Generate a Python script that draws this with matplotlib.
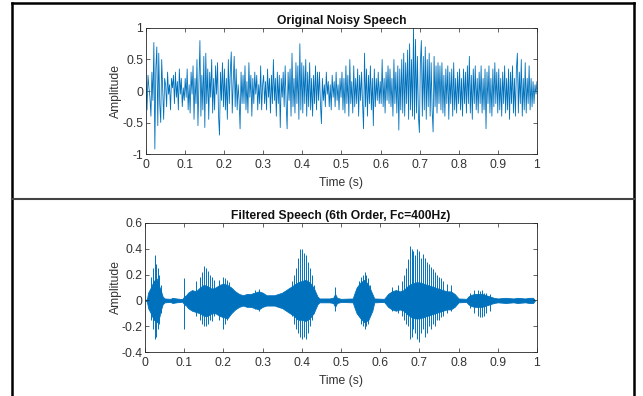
import numpy as np
import matplotlib.pyplot as plt
from matplotlib.lines import Line2D

# noisy input, one sample every 2.5 ms (0..1 s)
noisy = [
    0.15, -0.3, 0.25, 0.05, -0.1, -0.4, 0.3, -0.15, 0.77, -0.92, 0.35, 0.7, -0.55, 0.6, -0.2, -0.5, 0.5, 0.0, -0.45, 0.2,
    0.1, -0.25, 0.3, -0.05, 0.1, -0.3, 0.2, 0.05, 0.25, -0.2, 0.3, -0.1, 0.15, -0.3, 0.35, -0.05, 0.2, -0.25, 0.05, -0.15,
    0.2, -0.1, 0.35, -0.3, 0.1, -0.35, 0.3, -0.05, 0.4, -0.45, 0.2, -0.2, 0.5, -0.55, 0.15, 0.8, -0.4, 0.25, -0.3, 0.55,
    -0.58, 0.6, -0.2, 0.35, -0.45, 0.3, -0.1, 0.5, -0.35, 0.2, -0.3, 0.4, -0.05, 0.45, -0.4, -0.7, 0.3, -0.15, 0.45, -0.25,
    0.35, -0.3, 0.2, -0.45, 0.5, -0.2, 0.3, 0.62, -0.35, 0.15, 0.55, -0.25, 0.35, -0.3, 0.1, -0.15, -0.6, 0.3, -0.2, 0.25,
    -0.2, 0.4, -0.3, 0.15, -0.35, 0.45, -0.1, 0.25, -0.4, 0.2, -0.2, 0.3, -0.05, 0.25, -0.3, 0.1, -0.2, 0.4, -0.3, 0.1,
    0.25, -0.2, 0.15, -0.3, 0.35, -0.1, 0.2, -0.35, 0.25, -0.2, 0.5, -0.15, 0.2, -0.4, 0.3, -0.2, 0.25, -0.58, 0.2, -0.1,
    0.3, -0.25, 0.4, -0.2, -0.6, 0.3, -0.15, 0.35, -0.4, 0.6, -0.25, 0.2, -0.35, 0.45, -0.2, 0.4, -0.45, 0.75, -0.3, 0.45,
    -0.35, 0.4, -0.2, 0.5, -0.4, 0.3, -0.25, 0.45, -0.3, 0.2, -0.4, 0.25, -0.2, 0.4, -0.3, 0.3, -0.15, 0.3, -0.2, -0.52,
    0.2, -0.15, 0.1, -0.25, 0.3, -0.05, 0.15, -0.25, 0.1, -0.3, 0.25, -0.1, 0.15, -0.25, 0.3, -0.15, 0.1, -0.3, 0.2, -0.1,
    0.3, -0.3, 0.2, -0.35, 0.4, -0.2, 0.25, -0.4, 0.5, -0.2, 0.15, -0.35, 0.4, -0.25, 0.2, -0.2, 0.35, -0.4, 0.25, -0.15,
    0.3, -0.2, -0.6, 0.6, -0.25, 0.35, -0.4, 0.25, -0.2, 0.4, -0.3, 0.2, -0.55, 0.35, -0.25, 0.2, -0.15, 0.3, -0.2, 0.15,
    -0.2, 0.5, -0.25, 0.2, -0.35, 0.3, -0.15, 0.4, -0.2, 0.35, -0.25, 0.2, -0.4, 0.5, -0.2, 0.3, -0.35, 0.4, -0.62, 0.35,
    -0.3, 0.5, -0.35, 0.6, -0.4, 0.45, -0.2, 0.65, -0.45, 0.75, -0.3, 0.5, -0.4, 1.0, -0.45, 0.82, -0.35, 0.55, -0.4, -0.66,
    0.45, 0.8, -0.4, 0.55, -0.3, 0.7, -0.45, 0.5, -0.25, 0.6, -0.4, 0.45, -0.3, -0.65, 0.55, -0.25, 0.4, -0.35, 0.45, -0.2,
    0.4, -0.3, 0.45, -0.35, 0.25, -0.4, 0.35, -0.2, 0.4, -0.45, 0.3, -0.2, 0.35, -0.4, 0.45, -0.3, 0.2, -0.35, 0.3, -0.2,
    0.35, -0.3, 0.2, -0.4, 0.35, -0.2, 0.3, -0.35, 0.4, -0.2, 0.55, -0.35, 0.25, -0.45, 0.35, -0.2, 0.4, -0.3, 0.2, -0.35,
    0.3, -0.2, 0.4, -0.35, 0.2, -0.3, 0.35, -0.6, 0.3, -0.2, 0.4, -0.35, 0.2, -0.4, 0.35, -0.25, 0.45, -0.2, 0.3, -0.35,
    0.35, -0.3, 0.2, -0.4, 0.3, -0.2, 0.4, -0.35, 0.2, -0.3, 0.35, -0.45, 0.3, -0.2, 0.4, -0.35, 0.2, -0.4, 0.35, 0.6,
    -0.35, 0.3, -0.2, 0.5, -0.4, 0.2, -0.3, 0.45, -0.35, 0.2, -0.2, 0.4, -0.3, 0.2, -0.25, 0.15, -0.2, 0.1, -0.05, 0.15,
]

# filtered output: envelope of the dense core (time, top, bottom)
env_t = [0.0, 0.005, 0.008, 0.015, 0.022, 0.03, 0.035, 0.04, 0.045, 0.05, 0.065, 0.07, 0.08, 0.095,
         0.1, 0.105, 0.11, 0.12, 0.13, 0.14, 0.15, 0.16, 0.17, 0.18, 0.19, 0.2, 0.21, 0.22, 0.23, 0.24,
         0.25, 0.26, 0.27, 0.28, 0.29, 0.3, 0.31, 0.32, 0.33, 0.34, 0.35, 0.36, 0.37, 0.38, 0.39, 0.4,
         0.41, 0.42, 0.43, 0.44, 0.445, 0.47, 0.48, 0.485, 0.49, 0.5, 0.53, 0.535, 0.54, 0.55, 0.56, 0.57,
         0.58, 0.585, 0.61, 0.615, 0.62, 0.63, 0.64, 0.65, 0.66, 0.67, 0.68, 0.69, 0.7, 0.71, 0.72, 0.73,
         0.74, 0.75, 0.76, 0.77, 0.78, 0.79, 0.8, 0.82, 0.825, 0.83, 0.84, 0.85, 0.86, 0.87, 0.88, 0.89,
         0.9, 0.92, 0.94, 0.95, 0.97, 0.98, 0.99, 0.995]
env_hi = [0.0, 0.01, 0.06, 0.1, 0.15, 0.17, 0.12, 0.08, 0.03, 0.015, 0.012, 0.02, 0.015, 0.01,
          0.03, 0.04, 0.06, 0.08, 0.07, 0.1, 0.12, 0.11, 0.09, 0.1, 0.12, 0.13, 0.12, 0.1, 0.07, 0.05,
          0.04, 0.05, 0.05, 0.06, 0.07, 0.06, 0.04, 0.04, 0.04, 0.05, 0.06, 0.08, 0.1, 0.12, 0.14, 0.15,
          0.16, 0.14, 0.1, 0.03, 0.015, 0.015, 0.02, 0.05, 0.02, 0.012, 0.015, 0.06, 0.1, 0.14, 0.16, 0.12,
          0.05, 0.015, 0.012, 0.03, 0.05, 0.07, 0.08, 0.07, 0.08, 0.11, 0.13, 0.14, 0.14, 0.13, 0.12, 0.11,
          0.1, 0.09, 0.08, 0.07, 0.07, 0.05, 0.015, 0.012, 0.03, 0.04, 0.05, 0.05, 0.05, 0.04, 0.03, 0.02,
          0.015, 0.02, 0.015, 0.02, 0.015, 0.02, 0.02, 0.0]
env_lo = [0.0, -0.01, -0.06, -0.1, -0.15, -0.17, -0.15, -0.08, -0.03, -0.015, -0.012, -0.02, -0.015, -0.01,
          -0.03, -0.04, -0.06, -0.08, -0.09, -0.1, -0.12, -0.12, -0.1, -0.1, -0.12, -0.13, -0.14, -0.1, -0.07, -0.05,
          -0.04, -0.05, -0.05, -0.06, -0.07, -0.05, -0.04, -0.04, -0.04, -0.05, -0.06, -0.08, -0.1, -0.12, -0.15, -0.15,
          -0.16, -0.14, -0.1, -0.03, -0.015, -0.015, -0.02, -0.05, -0.02, -0.012, -0.015, -0.06, -0.1, -0.14, -0.17, -0.15,
          -0.08, -0.015, -0.012, -0.03, -0.05, -0.07, -0.08, -0.07, -0.08, -0.11, -0.13, -0.14, -0.14, -0.13, -0.12, -0.11,
          -0.1, -0.09, -0.08, -0.07, -0.07, -0.05, -0.015, -0.012, -0.03, -0.04, -0.05, -0.05, -0.05, -0.04, -0.03, -0.02,
          -0.015, -0.02, -0.015, -0.02, -0.015, -0.02, -0.02, 0.0]

# filtered output: pitch pulses sticking out of the core
pulse_t = [0.015, 0.02, 0.025, 0.028, 0.032, 0.036, 0.04, 0.099,
           0.13, 0.14, 0.145, 0.15, 0.155, 0.16, 0.165, 0.17, 0.175, 0.19, 0.2, 0.205, 0.21, 0.215,
           0.28, 0.29,
           0.375, 0.38, 0.385, 0.39, 0.395, 0.4, 0.405, 0.41, 0.415, 0.42, 0.425, 0.43, 0.485,
           0.545, 0.55, 0.555, 0.56, 0.565, 0.57, 0.575,
           0.63, 0.645, 0.655, 0.66, 0.665, 0.67, 0.675, 0.68, 0.685, 0.69, 0.695, 0.7, 0.705, 0.71,
           0.715, 0.72, 0.725, 0.73, 0.735, 0.74, 0.745, 0.75, 0.755, 0.76, 0.77, 0.78,
           0.83, 0.84, 0.85, 0.855, 0.86, 0.865, 0.87, 0.88]
pulse_hi = [0.18, 0.25, 0.35, 0.28, 0.25, 0.2, 0.12, 0.17,
            0.15, 0.18, 0.22, 0.27, 0.25, 0.23, 0.2, 0.18, 0.16, 0.16, 0.18, 0.17, 0.16, 0.14,
            0.08, 0.09,
            0.15, 0.2, 0.25, 0.33, 0.4, 0.4, 0.37, 0.35, 0.3, 0.25, 0.2, 0.12, 0.1,
            0.15, 0.18, 0.2, 0.22, 0.2, 0.17, 0.12,
            0.1, 0.12, 0.15, 0.2, 0.25, 0.32, 0.42, 0.4, 0.38, 0.35, 0.4, 0.38, 0.33, 0.36,
            0.33, 0.3, 0.28, 0.26, 0.24, 0.22, 0.2, 0.18, 0.17, 0.15, 0.13, 0.12,
            0.06, 0.08, 0.08, 0.07, 0.08, 0.06, 0.06, 0.05]
pulse_lo = [-0.15, -0.22, -0.3, -0.28, -0.22, -0.18, -0.1, -0.22,
            -0.12, -0.15, -0.18, -0.2, -0.2, -0.18, -0.15, -0.16, -0.12, -0.15, -0.22, -0.18, -0.15, -0.12,
            -0.07, -0.08,
            -0.12, -0.18, -0.22, -0.25, -0.28, -0.3, -0.28, -0.3, -0.25, -0.2, -0.15, -0.1, -0.08,
            -0.12, -0.18, -0.2, -0.22, -0.2, -0.18, -0.12,
            -0.08, -0.1, -0.12, -0.15, -0.18, -0.2, -0.3, -0.28, -0.22, -0.25, -0.3, -0.32, -0.25, -0.22,
            -0.28, -0.25, -0.2, -0.22, -0.18, -0.2, -0.15, -0.15, -0.13, -0.12, -0.1, -0.08,
            -0.06, -0.1, -0.12, -0.13, -0.13, -0.12, -0.1, -0.08]

blue = '#0072BD'
text_grey = '#333333'
plt.rcParams['font.family'] = ['Liberation Sans', 'DejaVu Sans']
plt.rcParams['font.size'] = 8.7


def style_axes(ax, title, ylab_x):
    ax.set_title(title, fontsize=8.7, fontweight='bold', pad=3, color='#111111')
    ax.set_xlabel('Time (s)', fontsize=8.7, labelpad=4.5, color=text_grey)
    ax.set_ylabel('Amplitude', fontsize=8.7, color=text_grey)
    ax.yaxis.set_label_coords(ylab_x, 0.5)
    ax.set_xlim(0, 1)
    ax.set_xticks(np.arange(0, 1.01, 0.1))
    ax.set_xticklabels(['0', '0.1', '0.2', '0.3', '0.4', '0.5', '0.6', '0.7', '0.8', '0.9', '1'])
    ax.tick_params(direction='in', length=3, width=0.5, top=True, right=True,
                   color='#262626', labelcolor=text_grey, labelsize=8.7)
    ax.tick_params(axis='x', pad=3.5)
    ax.tick_params(axis='y', pad=2)
    for sp in ax.spines.values():
        sp.set_linewidth(0.6)
        sp.set_color('#262626')


fig = plt.figure(figsize=(6.43, 3.96), dpi=100)

# upper panel
ax1 = fig.add_axes([0.2271, 0.6111, 0.608, 0.3182])
t_noisy = np.linspace(0, 1, len(noisy))
ax1.plot(t_noisy, noisy, color=blue, lw=0.6)
ax1.set_ylim(-1, 1)
ax1.set_yticks([-1, -0.5, 0, 0.5, 1])
ax1.set_yticklabels(['-1', '-0.5', '0', '0.5', '1'])
style_axes(ax1, 'Original Noisy Speech', -0.062)

# lower panel
ax2 = fig.add_axes([0.2255, 0.1111, 0.6096, 0.3258])
ax2.fill_between(env_t, env_lo, env_hi, color=blue, lw=0.6)
ax2.vlines(pulse_t, pulse_lo, pulse_hi, color=blue, lw=0.7)
ax2.set_ylim(-0.4, 0.6)
ax2.set_yticks([-0.4, -0.2, 0, 0.2, 0.4, 0.6])
ax2.set_yticklabels(['-0.4', '-0.2', '0', '0.2', '0.4', '0.6'])
style_axes(ax2, 'Filtered Speech (6th Order, Fc=400Hz)', -0.059)

# frame lines around the figure panels
W, H = 643, 396
fig.add_artist(Line2D([12 / W, 12 / W], [0, 1 - 3 / H], color='black', lw=1.8))
fig.add_artist(Line2D([12 / W, 634 / W], [1 - 3 / H, 1 - 3 / H], color='black', lw=1.8))
fig.add_artist(Line2D([634 / W, 634 / W], [0, 1 - 3 / H], color='black', lw=1.8))
fig.add_artist(Line2D([12 / W, 634 / W], [1 - 199 / H, 1 - 199 / H], color='#444444', lw=1.5))

fig.savefig('out.png', dpi=100)
